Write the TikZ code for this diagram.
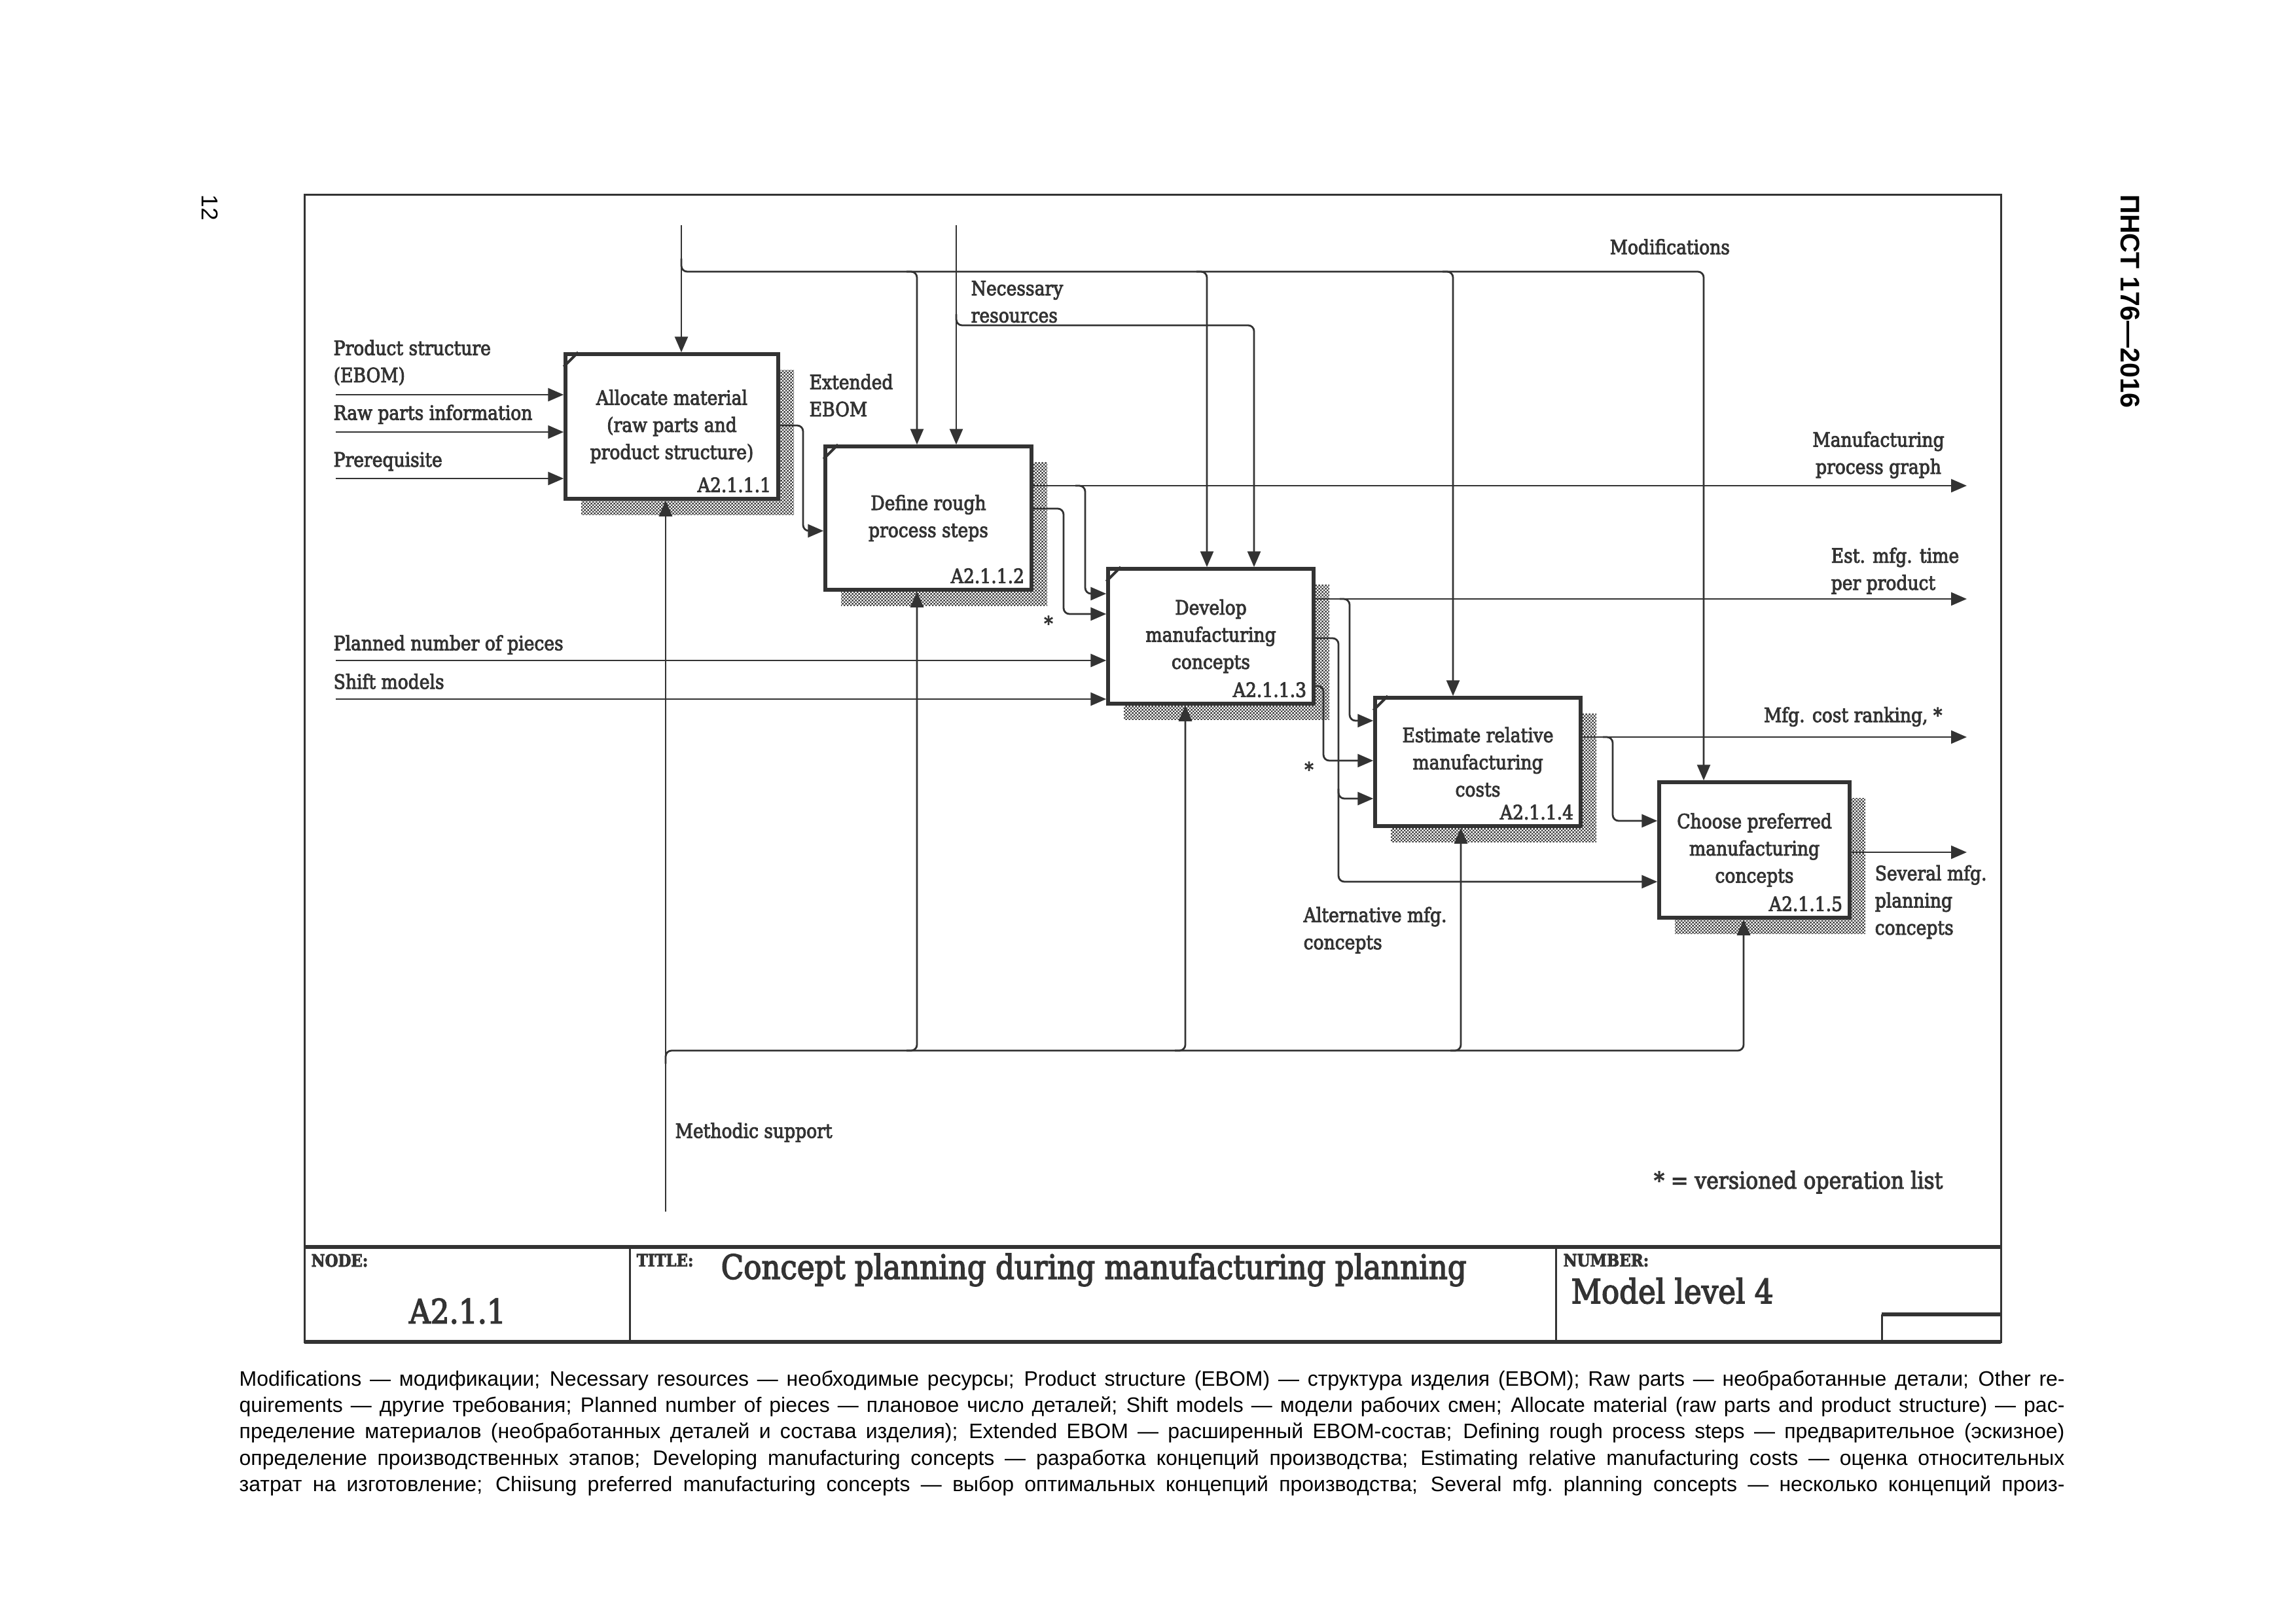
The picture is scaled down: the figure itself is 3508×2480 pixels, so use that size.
\documentclass[tikz,border=0pt]{standalone}
\usepackage{fontspec}
\setmainfont{DejaVu Serif}[FakeStretch=0.88, FakeBold=3]
\newfontfamily\capfont{Liberation Sans}
\usetikzlibrary{arrows.meta,calc,shadows,patterns}
\definecolor{ink}{HTML}{333333}
\pgfdeclarepatternformonly{finecheck}{\pgfqpoint{0pt}{0pt}}{\pgfqpoint{1.4pt}{1.4pt}}{\pgfqpoint{1.4pt}{1.4pt}}{%
  \pgfpathrectangle{\pgfqpoint{0pt}{0pt}}{\pgfqpoint{0.7pt}{0.7pt}}%
  \pgfpathrectangle{\pgfqpoint{0.7pt}{0.7pt}}{\pgfqpoint{0.7pt}{0.7pt}}%
  \pgfusepath{fill}}
\newcommand\lbl{\fontsize{8.6pt}{11.8pt}\selectfont}
\newcommand\ttlfont{\fontsize{14.6pt}{16pt}\selectfont}
\newcommand\smallhd{\fontsize{7.4pt}{8pt}\selectfont\bfseries}
\newcommand\capline[1]{\hbox to 278.9mm{\spaceskip=0.28em plus 1em minus 0.06em\relax #1}}
\tikzset{
  framel/.style={draw=ink, line width=0.3mm},
  thickl/.style={draw=ink, line width=0.6mm},
  fbox/.style={draw=ink, line width=0.55mm, fill=white, align=center, inner sep=0pt,
    font=\lbl, text=ink,
    drop shadow={shadow xshift=2.4mm, shadow yshift=-2.4mm, pattern=finecheck, pattern color=black!75, opacity=1}},
  cornermk/.style={draw=ink, line width=0.4mm},
  idlbl/.style={font=\lbl, text=ink, inner sep=0pt},
  lab/.style={font=\lbl, text=ink, inner sep=0pt, align=left},
  conn/.style={draw=ink, line width=0.28mm, rounded corners=0.9mm},
  arr/.style={-{Triangle[length=2.4mm,width=2mm]}},
}
\begin{document}
\begin{tikzpicture}[x=0.1mm,y=-0.1mm]
\useasboundingbox (0,0) rectangle (3508,2480);

% frame and title block
\draw[framel] (465,297) rectangle (3057,2050);
\draw[thickl] (465,1905) -- (3057,1905);
\draw[thickl] (465,2050) -- (3057,2050);
\draw[framel] (962,1905) -- (962,2050);
\draw[framel] (2377,1905) -- (2377,2050);
\draw[thickl] (2875,2008) -- (3057,2008);
\draw[framel] (2875,2008) -- (2875,2050);

\node[anchor=north west, inner sep=0pt, font=\smallhd, text=ink] (nodehd) at (475,1915) {NODE:};
\node[inner sep=0pt, font=\ttlfont, text=ink] (nodeval) at (699,2003) {A2.1.1};
\node[anchor=north west, inner sep=0pt, font=\smallhd, text=ink] (titlehd) at (972,1915) {TITLE:};
\node[anchor=west, inner sep=0pt, font=\ttlfont, text=ink] (titleval) at (1101,1940) {Concept planning during manufacturing planning};
\node[anchor=north west, inner sep=0pt, font=\smallhd, text=ink] (numhd) at (2388,1915) {NUMBER:};
\node[anchor=west, inner sep=0pt, font=\ttlfont, text=ink] (numval) at (2400,1972) {Model level 4};

% page marks
\node[rotate=-90, inner sep=0pt, font=\capfont\fontsize{10pt}{12pt}\selectfont] (pg) at (321,317) {12};
\node[rotate=-90, anchor=west, inner sep=0pt, font=\capfont\bfseries\fontsize{11.7pt}{14pt}\selectfont] (std) at (3255,297) {ПНСТ 176—2016};

% activity boxes
\node[fbox, minimum width=32.5mm, minimum height=22.1mm] (b1) at (1026.5,651.5) {Allocate material\\(raw parts and\\product structure)};
\node[fbox, minimum width=31.5mm, minimum height=21.9mm] (b2) at (1418.5,791.5) {Define rough\\process steps};
\node[fbox, minimum width=31.4mm, minimum height=20.6mm] (b3) at (1850,972) {Develop\\manufacturing\\concepts};
\node[fbox, minimum width=31.4mm, minimum height=19.6mm] (b4) at (2258,1164) {Estimate relative\\manufacturing\\costs};
\node[fbox, minimum width=29.1mm, minimum height=20.7mm] (b5) at (2680.5,1298.5) {Choose preferred\\manufacturing\\concepts};

\foreach \b in {b1,b2,b3,b4}
  \draw[cornermk] ($(\b.north west)+(0,22)$) -- ($(\b.north west)+(22,0)$);

\node[idlbl, anchor=base east] (id1) at ($(b1.south east)+(-13,-13)$) {A2.1.1.1};
\node[idlbl, anchor=base east] (id2) at ($(b2.south east)+(-13,-13)$) {A2.1.1.2};
\node[idlbl, anchor=base east] (id3) at ($(b3.south east)+(-13,-13)$) {A2.1.1.3};
\node[idlbl, anchor=base east] (id4) at ($(b4.south east)+(-13,-13)$) {A2.1.1.4};
\node[idlbl, anchor=base east] (id5) at ($(b5.south east)+(-13,-13)$) {A2.1.1.5};

% controls
\coordinate (mtop) at (1041,344);
\coordinate (rtop) at (1461,344);
\draw[conn,arr] (mtop) -- (mtop |- b1.north);
\draw[conn,arr] (1041,395) -- (1041,415) -- (2603,415) -- (2603,0 |- b5.north);
\draw[conn,arr] (1385,415) -- (1401,415) -- (1401,0 |- b2.north);
\draw[conn,arr] (1828,415) -- (1844,415) -- (1844,0 |- b3.north);
\draw[conn,arr] (2204,415) -- (2220,415) -- (2220,0 |- b4.north);
\draw[conn,arr] (rtop) -- (rtop |- b2.north);
\draw[conn,arr] (1461,480) -- (1461,497) -- (1916,497) -- (1916,0 |- b3.north);

% inputs
\coordinate (in1) at (513,603);
\coordinate (in2) at (513,660);
\coordinate (in3) at (513,731);
\coordinate (in4) at (513,1009);
\coordinate (in5) at (513,1068);
\draw[conn,arr] (in1) -- (b1.west |- in1);
\draw[conn,arr] (in2) -- (b1.west |- in2);
\draw[conn,arr] (in3) -- (b1.west |- in3);
\draw[conn,arr] (in4) -- (b3.west |- in4);
\draw[conn,arr] (in5) -- (b3.west |- in5);

% outputs
\coordinate (o1) at (3005,742);
\coordinate (o2) at (3005,915);
\coordinate (o3) at (3005,1126);
\coordinate (o4) at (3005,1302);
\draw[conn,arr] (b1.east |- 0,650) -- (1227,650) -- (1227,811) -- (b2.west |- 0,811);
\draw[conn,arr] (b2.east |- o1) -- (o1);
\draw[conn,arr] (1643,742) -- (1658,742) -- (1658,907) -- (b3.west |- 0,907);
\draw[conn,arr] (b2.east |- 0,777) -- (1625,777) -- (1625,938) -- (b3.west |- 0,938);
\draw[conn,arr] (b3.east |- o2) -- (o2);
\draw[conn,arr] (2047,915) -- (2062,915) -- (2062,1101) -- (b4.west |- 0,1101);
\draw[conn,arr] (b3.east |- 0,975) -- (2045,975) -- (2045,1347) -- (b5.west |- 0,1347);
\draw[conn,arr] (2045,1205) -- (2045,1220) -- (b4.west |- 0,1220);
\draw[conn,arr] (b3.east |- 0,1048) -- (2022,1048) -- (2022,1162) -- (b4.west |- 0,1162);
\draw[conn,arr] (b4.east |- o3) -- (o3);
\draw[conn,arr] (2449,1126) -- (2464,1126) -- (2464,1254) -- (b5.west |- 0,1254);
\draw[conn,arr] (b5.east |- o4) -- (o4);

% mechanisms
\coordinate (mbot) at (1017,1851);
\draw[conn,arr] (mbot) -- (mbot |- b1.south);
\draw[conn,arr] (1017,1625) -- (1017,1605) -- (2664,1605) -- (2664,0 |- b5.south);
\draw[conn,arr] (1385,1605) -- (1401,1605) -- (1401,0 |- b2.south);
\draw[conn,arr] (1795,1605) -- (1811,1605) -- (1811,0 |- b3.south);
\draw[conn,arr] (2216,1605) -- (2232,1605) -- (2232,0 |- b4.south);

% labels
\node[lab, anchor=west] (lps) at (509,554) {Product structure\\(EBOM)};
\node[lab, anchor=west] (lrp) at (509,633) {Raw parts information};
\node[lab, anchor=west] (lpr) at (509,705) {Prerequisite};
\node[lab, anchor=west] (lpn) at (509,985) {Planned number of pieces};
\node[lab, anchor=west] (lsm) at (509,1041) {Shift models};
\node[lab, anchor=west] (lee) at (1236,604) {Extended\\EBOM};
\node[lab, anchor=west] (lnr) at (1483,461) {Necessary\\resources};
\node[lab, anchor=west] (lmod) at (2459,377) {Modifications};
\node[lab, align=center] (lmpg) at (2870,695) {Manufacturing\\process graph};
\node[lab, anchor=west] (lemt) at (2797,872) {Est. mfg. time\\per product};
\node[lab, anchor=east] (lmcr) at (2968,1095) {Mfg. cost ranking, *};
\node[lab, anchor=west] (lsev) at (2864,1378) {Several mfg.\\planning\\concepts};
\node[lab, anchor=west] (lalt) at (1991,1421) {Alternative mfg.\\concepts};
\node[lab, anchor=west] (lms) at (1031,1730) {Methodic support};
\node[lab, anchor=north] (st1) at (1602,940) {*};
\node[lab, anchor=north] (st2) at (2000,1163) {*};
\node[lab, anchor=east, font=\fontsize{10.2pt}{12pt}\selectfont] (lver) at (2969,1806) {* = versioned operation list};

% caption
\node[anchor=north west, inner sep=0pt, text width=278.9mm, align=left,
      font=\capfont\fontsize{9.1pt}{11.46pt}\selectfont] (cap) at (365,2093) {%
\capline{Modifications — модификации; Necessary resources — необходимые ресурсы; Product structure (EBOM) — структура изделия (EBOM); Raw parts — необработанные детали; Other re-}
\capline{quirements — другие требования; Planned number of pieces — плановое число деталей; Shift models — модели рабочих смен; Allocate material (raw parts and product structure) — рас-}
\capline{пределение материалов (необработанных деталей и состава изделия); Extended EBOM — расширенный EBOM-состав; Defining rough process steps — предварительное (эскизное)}
\capline{определение производственных этапов; Developing manufacturing concepts — разработка концепций производства; Estimating relative manufacturing costs — оценка относительных}
\capline{затрат на изготовление; Chiisung preferred manufacturing concepts — выбор оптимальных концепций производства; Several mfg. planning concepts — несколько концепций произ-}};
\end{tikzpicture}
\end{document}
